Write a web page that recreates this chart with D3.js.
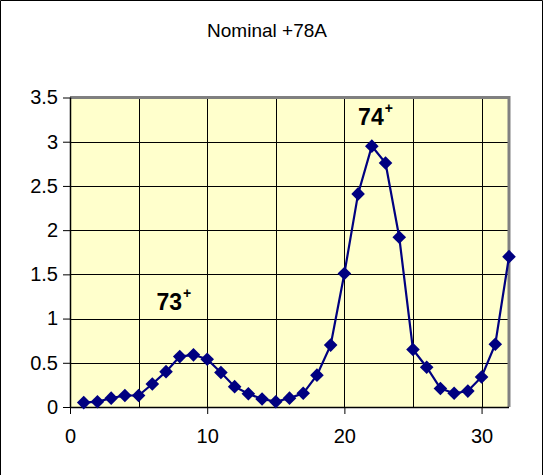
<!DOCTYPE html>
<html>
<head>
<meta charset="utf-8">
<script src="https://cdn.jsdelivr.net/npm/d3@7"></script>
<style>
html,body{margin:0;padding:0;background:#fff;}
svg{display:block;}
text{font-family:"Liberation Sans",Arial,sans-serif;}
</style>
</head>
<body>
<svg id="chart" width="544" height="475"></svg>
<script>
const title = "Nominal +78A";
const xValues = [1,2,3,4,5,6,7,8,9,10,11,12,13,14,15,16,17,18,19,20,21,22,23,24,25,26,27,28,29,30,31,32];
const yValues = [0.05,0.06,0.10,0.13,0.13,0.26,0.40,0.57,0.59,0.54,0.39,0.23,0.15,0.09,0.06,0.10,0.155,0.36,0.70,1.51,2.41,2.95,2.76,1.92,0.65,0.45,0.21,0.155,0.18,0.34,0.71,1.70];
const xTickLabels = [0,10,20,30];
const xGridValues = [5,10,15,20,25,30];
const yTickLabels = [0,0.5,1,1.5,2,2.5,3,3.5];
const annotations = [
  {main:"73", sup:"+", x:6.3, y:1.097},
  {main:"74", sup:"+", x:21.0, y:3.19}
];

const svg = d3.select("#chart");
const pLeft = 70, pRight = 509, pTop = 97.5, pBottom = 407;
const x = d3.scaleLinear().domain([0,32]).range([pLeft,pRight]);
const y = d3.scaleLinear().domain([0,3.5]).range([pBottom,pTop]);

// outer frame
svg.append("path").attr("d","M0.5,476 L0.5,0.5 L542.5,0.5 L542.5,476")
  .attr("fill","none").attr("stroke","#000").attr("stroke-width",1);

// title
svg.append("text").attr("x",267).attr("y",37).attr("text-anchor","middle")
  .attr("font-size",19).attr("fill","#000").text(title);

// plot background
svg.append("rect").attr("x",pLeft).attr("y",pTop).attr("width",pRight-pLeft).attr("height",pBottom-pTop)
  .attr("fill","#FFFFCC");

// grid
svg.append("g").selectAll("line").data(yTickLabels.filter(d=>d>0 && d<3.5)).join("line")
  .attr("x1",pLeft).attr("x2",pRight).attr("y1",d=>Math.round(y(d))+0.5).attr("y2",d=>Math.round(y(d))+0.5)
  .attr("stroke","#000").attr("stroke-width",1);
svg.append("g").selectAll("line").data(xGridValues).join("line")
  .attr("y1",pTop).attr("y2",pBottom).attr("x1",d=>Math.round(x(d))+0.5).attr("x2",d=>Math.round(x(d))+0.5)
  .attr("stroke","#000").attr("stroke-width",1);

// plot border top/right (gray)
svg.append("path").attr("d",`M${pLeft},${pTop} L${pRight},${pTop} L${pRight},${pBottom}`)
  .attr("fill","none").attr("stroke","#808080").attr("stroke-width",3);

// axes
const yAxis = d3.axisLeft(y).tickValues(yTickLabels).tickSize(7).tickPadding(5)
  .tickFormat(d=>String(d));
const gy = svg.append("g").attr("transform",`translate(${pLeft},0)`).call(yAxis);
const xAxis = d3.axisBottom(x).tickValues(xTickLabels).tickSize(7).tickPadding(15)
  .tickFormat(d=>String(d));
const gx = svg.append("g").attr("transform",`translate(0,${pBottom})`).call(xAxis);
[gx,gy].forEach(g=>{
  g.select(".domain").attr("stroke","#000").attr("stroke-width",1.5);
  g.selectAll(".tick line").attr("stroke","#000").attr("stroke-width",1);
  g.selectAll(".tick text").attr("font-size",20).attr("fill","#000")
    .attr("font-family","'Liberation Sans',Arial,sans-serif");
});
gx.select(".domain").attr("d",`M${pLeft},0.5H${pRight}`);
gy.select(".domain").attr("d",`M0.5,${pBottom}V${pTop}`);

// line
const line = d3.line().x((d,i)=>x(xValues[i])).y(d=>y(d));
svg.append("path").datum(yValues).attr("d",line)
  .attr("fill","none").attr("stroke","#000080").attr("stroke-width",2.2);

// markers
svg.append("g").selectAll("path").data(yValues).join("path")
  .attr("transform",(d,i)=>`translate(${x(xValues[i])},${y(d)})`)
  .attr("d","M0,-6.8L6.8,0L0,6.8L-6.8,0Z")
  .attr("fill","#000080");

// annotations
annotations.forEach(a=>{
  const t = svg.append("text").attr("x",x(a.x)).attr("y",y(a.y))
    .attr("font-size",23).attr("font-weight","bold").attr("fill","#000");
  t.append("tspan").text(a.main);
  t.append("tspan").attr("font-size",14).attr("dx",1).attr("dy",-12).text(a.sup);
});
</script>
</body>
</html>
